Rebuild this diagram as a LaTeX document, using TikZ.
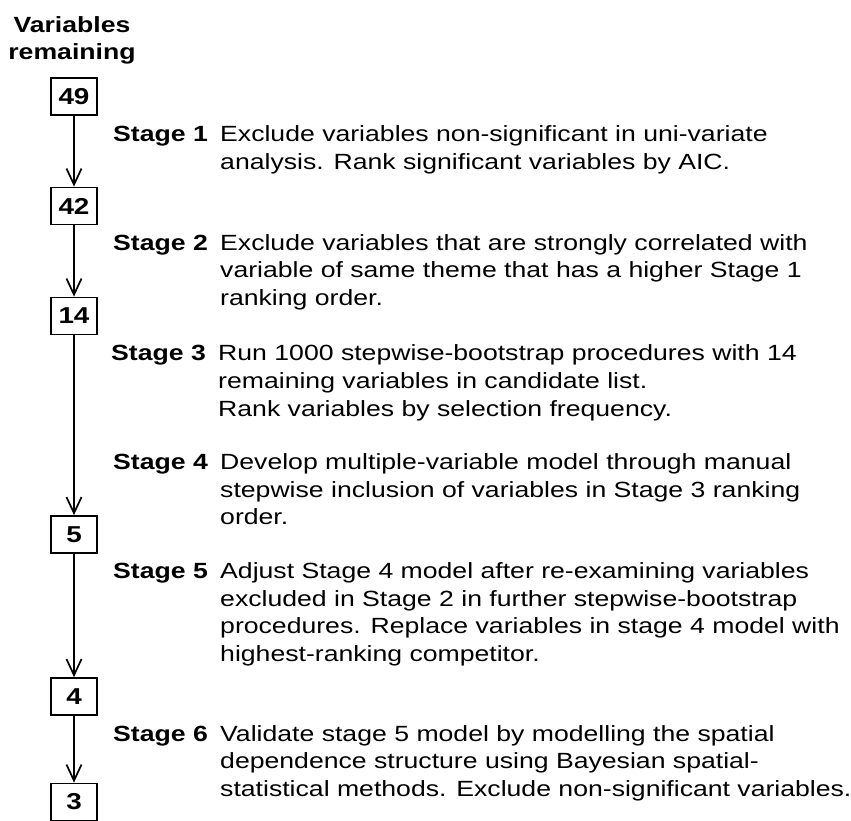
\documentclass[tikz,border=0pt]{standalone}
\usepackage{fontspec}
\setmainfont{Liberation Sans}[FakeStretch=1.21]
\usetikzlibrary{arrows.meta}

\begin{document}
\begin{tikzpicture}[x=1pt,y=-1pt,font=\fontsize{22}{27.7}\selectfont,
    numbox/.style={draw,line width=1.8pt,minimum width=46.7pt,minimum height=37pt,inner sep=0pt,font=\fontsize{23}{27.7}\selectfont\bfseries},
    stagelab/.style={anchor=base west,inner sep=0pt,font=\fontsize{22}{27.7}\selectfont\bfseries},
    stagetext/.style={anchor=base west,inner sep=0pt,align=left},
    flow/.style={-{Straight Barb[length=16pt,width=15pt,line width=1.7pt]},line width=1.6pt}]
        \useasboundingbox (0,0) rectangle (851,821);

        % column of remaining variables (base = last line)
        \node[inner sep=0pt,align=center,font=\fontsize{22}{27}\selectfont\bfseries,anchor=base] (head) at (72,60) {Variables\\remaining};
        \node[numbox] (n49) at (74,96.5) {49};
        \node[numbox] (n42) at (74,206) {42};
        \node[numbox] (n14) at (74,316) {14};
        \node[numbox] (n5) at (74,534.5) {5};
        \node[numbox] (n4) at (74,696.5) {4};
        \node[numbox] (n3) at (74,802) {3};

        \draw[flow] (n49) -- (n42);
        \draw[flow] (n42) -- (n14);
        \draw[flow] (n14) -- (n5);
        \draw[flow] (n5) -- (n4);
        \draw[flow] (n4) -- (n3);

        % stages: label on first line, text anchored on its last line
        \node[stagelab] (s1) at (113,141.7) {Stage 1};
        \node[stagetext] (t1) at (220,169.4) {Exclude variables non-significant in uni-variate\\analysis. Rank significant variables by AIC.};

        \node[stagelab] (s2) at (113,250) {Stage 2};
        \node[stagetext] (t2) at (220,305.4) {Exclude variables that are strongly correlated with\\variable of same theme that has a higher Stage 1\\ranking order.};

        \node[stagelab] (s3) at (111,360.7) {Stage 3};
        \node[stagetext] (t3) at (218,416.1) {Run 1000 stepwise-bootstrap procedures with 14\\remaining variables in candidate list.\\Rank variables by selection frequency.};

        \node[stagelab] (s4) at (113,469.3) {Stage 4};
        \node[stagetext] (t4) at (220,524.7) {Develop multiple-variable model through manual\\stepwise inclusion of variables in Stage 3 ranking\\order.};

        \node[stagelab] (s5) at (113,578.3) {Stage 5};
        \node[stagetext] (t5) at (220,661.4) {Adjust Stage 4 model after re-examining variables\\excluded in Stage 2 in further stepwise-bootstrap\\procedures. Replace variables in stage 4 model with\\highest-ranking competitor.};

        \node[stagelab] (s6) at (113,741) {Stage 6};
        \node[stagetext] (t6) at (220,796.4) {Validate stage 5 model by modelling the spatial\\dependence structure using Bayesian spatial-\\statistical methods. Exclude non-significant variables.};
\end{tikzpicture}
\end{document}
